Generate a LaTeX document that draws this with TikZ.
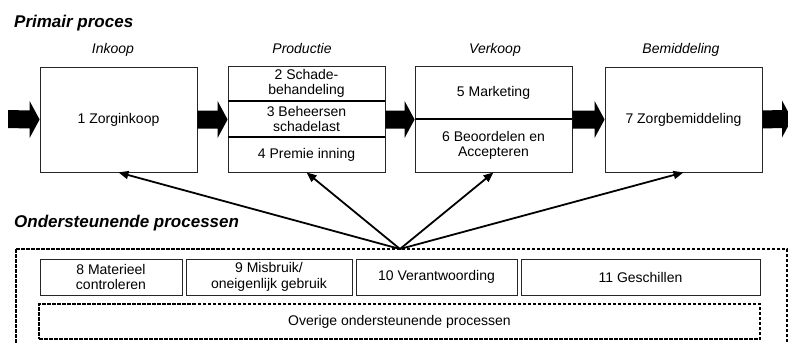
\documentclass[tikz,border=0pt]{standalone}
\usepackage{fontspec}
\setmainfont{Liberation Sans}
\usetikzlibrary{arrows.meta,calc}
\newcommand\blkarrow[2]{\fill ($(#1)+(0,-9)$) -- ($(#2)+(-10,-9)$) -- ($(#2)+(-10,-18.5)$) -- (#2) -- ($(#2)+(-10,18.5)$) -- ($(#2)+(-10,9)$) -- ($(#1)+(0,9)$) -- cycle;}
\begin{document}
\begin{tikzpicture}[x=1pt,y=-1pt,
  box/.style={draw=black!85,line width=0.8pt,rectangle,inner sep=0pt,align=center,font=\fontsize{14}{15.5}\selectfont},
  cell/.style={rectangle,inner sep=0pt,align=center,font=\fontsize{14}{15.5}\selectfont},
  title/.style={font=\fontsize{17}{20}\selectfont\bfseries\itshape,anchor=base west,inner sep=0pt},
  lbl/.style={font=\fontsize{14}{16}\selectfont\itshape,anchor=base,inner sep=0pt},
  divider/.style={line width=1.6pt},
  link/.style={line width=1.8pt,-{Triangle[length=10pt,width=8pt]}},
  dbox/.style={draw=black,dash pattern=on 3.5pt off 1.5pt,line width=1.1pt,rectangle,inner sep=0pt,align=center,font=\fontsize{14}{15.5}\selectfont}
]
\useasboundingbox (0,0) rectangle (788,343);
% titles
\node[title] (t1) at (14,27) {Primair proces};
\node[title] (t2) at (14,227) {Ondersteunende processen};
% column labels
\node[lbl] (l1) at (113,53) {Inkoop};
\node[lbl] (l2) at (302,53) {Productie};
\node[lbl] (l3) at (495,53) {Verkoop};
\node[lbl] (l4) at (681,53) {Bemiddeling};
% primary boxes
\node[box,minimum width=157pt,minimum height=105pt] (b1) at (118.5,119.5) {1 Zorginkoop};
\node[box,minimum width=157pt,minimum height=106pt] (prod) at (306.5,119) {};
\node[cell,minimum width=157pt,minimum height=35pt] (p2) at (306.5,83.5) {2 Schade-\\behandeling};
\node[cell,minimum width=157pt,minimum height=36pt] (p3) at (306.5,119) {3 Beheersen\\schadelast};
\node[cell,minimum width=157pt,minimum height=35pt] (p4) at (306.5,154.5) {4 Premie inning};
\draw[divider] (p2.south west) -- (p2.south east);
\draw[divider] (p3.south west) -- (p3.south east);
\node[box,minimum width=157pt,minimum height=106pt] (verk) at (493.5,119) {};
\node[cell,minimum width=157pt,minimum height=53pt] (v5) at (493.5,92.5) {5 Marketing};
\node[cell,minimum width=157pt,minimum height=53pt] (v6) at (493.5,145.5) {6 Beoordelen en\\Accepteren};
\draw[divider] (v5.south west) -- (v5.south east);
\node[box,minimum width=157pt,minimum height=105pt] (bem) at (683.5,119.5) {7 Zorgbemiddeling};
% flow arrows
\coordinate (in) at (8,119);
\coordinate (out) at (792,119);
\coordinate (e1) at (b1.east);
\coordinate (w2) at (prod.west |- e1);
\coordinate (e2) at (prod.east |- e1);
\coordinate (w3) at (verk.west |- e1);
\coordinate (e3) at (verk.east |- e1);
\coordinate (w4) at (bem.west |- e1);
\coordinate (e4) at (bem.east |- e1);
\coordinate (w1) at (b1.west);
\blkarrow{in}{w1}
\blkarrow{e1}{w2}
\blkarrow{e2}{w3}
\blkarrow{e3}{w4}
\blkarrow{e4}{out}
% supporting processes
\draw[dbox] (16,249) rectangle (787,360);
\coordinate (hub) at (400,249);
\node[box,minimum width=142pt,minimum height=36pt] (s8) at (111,277) {8 Materieel\\controleren};
\node[box,minimum width=166pt,minimum height=36pt] (s9) at (269,277) {9 Misbruik/\\oneigenlijk gebruik};
\node[box,minimum width=161pt,minimum height=36pt] (s10) at (436.5,277) {10 Verantwoording};
\node[box,minimum width=239pt,minimum height=36pt] (s11) at (640.5,277) {11 Geschillen};
\node[dbox,minimum width=721pt,minimum height=35pt] (ov) at (399.5,321.5) {Overige ondersteunende processen};
% links
\draw[link] (hub) -- (b1.south);
\draw[link] (hub) -- (prod.south);
\draw[link] (hub) -- (verk.south);
\draw[link] (hub) -- (bem.south);
\end{tikzpicture}
\end{document}
